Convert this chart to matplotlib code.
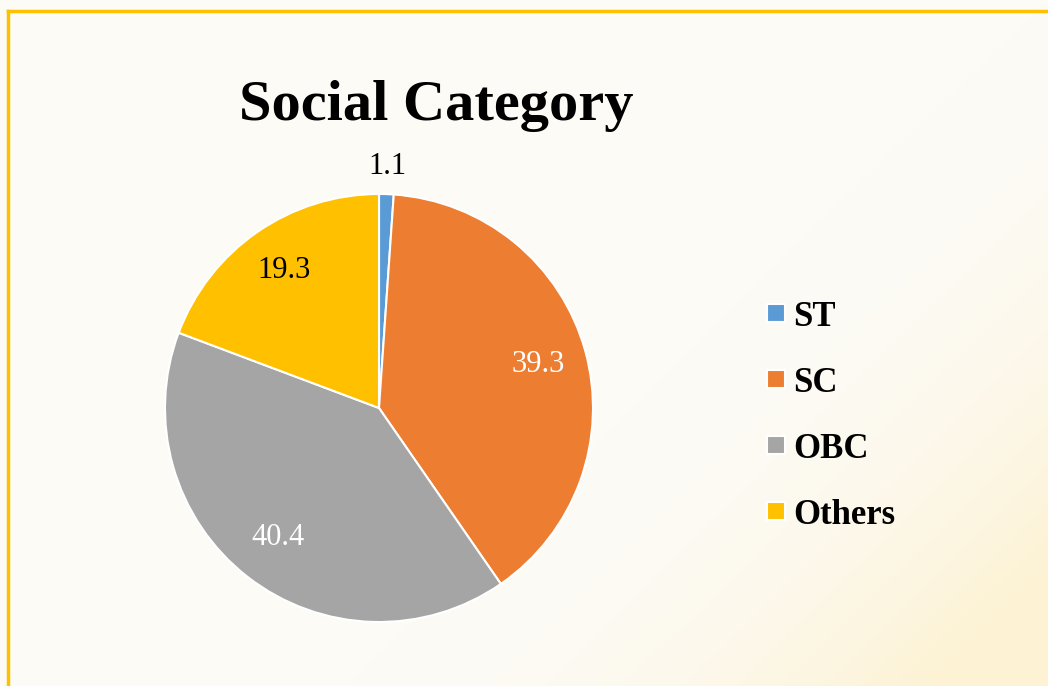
import numpy as np
import matplotlib
matplotlib.use("Agg")
import matplotlib.pyplot as plt
from matplotlib.lines import Line2D

# data
categories = ['ST', 'SC', 'OBC', 'Others']
values = [1.1, 39.3, 40.4, 19.3]
colors = ['#5B9BD5', '#ED7D31', '#A5A5A5', '#FFC000']
label_colors = ['black', 'white', 'white', 'black']
label_dist = [1.13, 0.77, 0.77, 0.78]

plt.rcParams['font.family'] = ['Liberation Serif', 'DejaVu Serif']

W, H = 1048, 686
fig = plt.figure(figsize=(W / 100, H / 100), dpi=100)
fig.patch.set_facecolor('#FCFBF6')

# faint warm tint towards the bottom right
bg = fig.add_axes([0, 0, 1, 1], zorder=-10)
yy, xx = np.mgrid[0:1:200j, 0:1:300j]
d = np.clip((xx - 0.6) * 1.8 + (0.4 - yy) * 1.2, 0, 1) ** 2
base = np.array([252, 251, 246]) / 255
warm = np.array([253, 242, 212]) / 255
img = base + (warm - base) * d[..., None]
bg.imshow(img, extent=[0, 1, 0, 1], aspect='auto', origin='lower')
bg.axis('off')

# frame lines
fig.add_artist(Line2D([8 / W, 1], [1 - 11 / H, 1 - 11 / H], color='#FFC000', lw=2.5))
fig.add_artist(Line2D([8 / W, 8 / W], [1 - 11 / H, 0], color='#FFC000', lw=2.5))

cx, cy, r = 379, 408, 214
ax = fig.add_axes([(cx - r) / W, (H - cy - r) / H, 2 * r / W, 2 * r / H])
wedges, _ = ax.pie(values, colors=colors, startangle=90, counterclock=False,
                   radius=1, wedgeprops=dict(edgecolor='white', linewidth=1.5))
ax.set_xlim(-1, 1)
ax.set_ylim(-1, 1)
ax.axis('off')

for w, v, c, dist in zip(wedges, values, label_colors, label_dist):
    ang = np.deg2rad((w.theta1 + w.theta2) / 2)
    ax.text(dist * np.cos(ang), dist * np.sin(ang), f'{v}', ha='center', va='center',
            fontsize=22, color=c)

fig.text(436 / W, 1 - 106 / H, 'Social Category', ha='center', va='center',
         fontsize=42, fontweight='bold')

leg = fig.legend(wedges, categories, loc='upper left',
                 bbox_to_anchor=(736 / W, 1 - 270 / H), frameon=False,
                 prop=dict(size=25, weight='bold'), handlelength=0.45, handleheight=0.4,
                 handletextpad=0.3, labelspacing=0.95)
for h in leg.legend_handles:
    h.set_height(13)
    h.set_width(13)
    h.set_y(3)

fig.savefig('out.png', dpi=100, facecolor=fig.get_facecolor())
